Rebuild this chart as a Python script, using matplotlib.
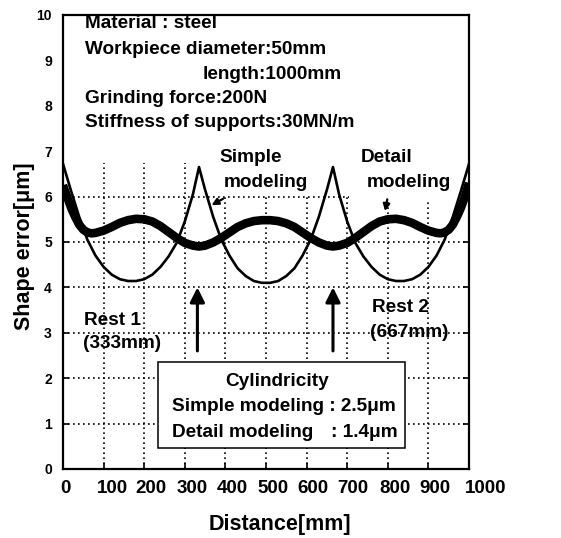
import matplotlib
matplotlib.use("Agg")
import matplotlib.pyplot as plt
import matplotlib.transforms as mtransforms
from matplotlib.patches import Rectangle

plt.rcParams['font.family'] = ['Liberation Sans', 'DejaVu Sans']
plt.rcParams['font.weight'] = 'bold'

# Simple modeling curve
simple_x = [0, 20, 40, 60, 80, 100, 120, 140, 160, 180, 200, 220, 240, 260, 280, 300, 320, 335,
            350, 370, 390, 410, 430, 450, 470, 490, 510, 530, 550, 570, 590, 610, 630, 650, 665,
            680, 700, 720, 740, 760, 780, 800, 820, 840, 860, 880, 900, 920, 940, 960, 980, 1000]
simple_y = [6.72, 6.12, 5.55, 5.05, 4.70, 4.45, 4.28, 4.18, 4.14, 4.14, 4.18, 4.28, 4.45, 4.68, 4.98, 5.45, 6.05, 6.65,
            6.15, 5.55, 5.05, 4.70, 4.42, 4.25, 4.14, 4.10, 4.10, 4.14, 4.25, 4.42, 4.70, 5.05, 5.55, 6.15, 6.65,
            6.05, 5.45, 4.98, 4.68, 4.45, 4.28, 4.18, 4.14, 4.14, 4.18, 4.28, 4.45, 4.70, 5.05, 5.55, 6.12, 6.72]

# Detail modeling curve
detail_x = [0, 10, 20, 30, 40, 50, 60, 70, 80, 100, 120, 140, 160, 180, 200, 220, 240, 260, 280, 300,
            320, 335, 350, 370, 390, 410, 430, 450, 470, 490, 510, 530, 550, 570, 590, 610, 630, 650,
            665, 680, 700, 720, 740, 760, 780, 800, 820, 840, 860, 880, 900, 920, 930, 940, 950, 960,
            970, 980, 990, 1000]
detail_y = [6.25, 6.00, 5.75, 5.55, 5.38, 5.27, 5.21, 5.19, 5.20, 5.25, 5.33, 5.42, 5.48, 5.51, 5.50, 5.45, 5.35, 5.22, 5.09, 4.98,
            4.92, 4.90, 4.92, 4.99, 5.09, 5.21, 5.33, 5.41, 5.46, 5.48, 5.48, 5.46, 5.41, 5.33, 5.21, 5.09, 4.99, 4.92,
            4.90, 4.92, 4.98, 5.09, 5.22, 5.35, 5.45, 5.50, 5.51, 5.48, 5.42, 5.33, 5.25, 5.20, 5.19, 5.21, 5.27, 5.38,
            5.55, 5.75, 6.00, 6.30]

x_ticks = [0, 100, 200, 300, 400, 500, 600, 700, 800, 900, 1000]
y_ticks = [0, 1, 2, 3, 4, 5, 6, 7, 8, 9, 10]

info_lines = ["Material : steel", "Workpiece diameter:50mm", "length:1000mm",
              "Grinding force:200N", "Stiffness of supports:30MN/m"]
rest_positions = [333, 667]

fig = plt.figure(figsize=(5.61, 5.38), dpi=100)
ax = fig.add_axes([0.1123, 0.1283, 0.7237, 0.8439])
ax.set_xlim(0, 1000)
ax.set_ylim(0, 10)
ax.set_xticks(x_ticks)
ax.set_yticks(y_ticks)
ax.tick_params(axis='x', labelsize=13.5, direction='in', length=4, width=1.2, pad=8)
ax.tick_params(axis='y', labelsize=10, direction='in', length=4, width=1.2, pad=8, right=True)
for lab in ax.get_xticklabels() + ax.get_yticklabels():
    lab.set_fontweight('bold')
# the original's x tick labels sit a little to the right of their grid lines
label_shift_px = [2, 9, 7, 7, 7, 7, 6, 6, 7, 7, 17]
for lab, dx in zip(ax.get_xticklabels(), label_shift_px):
    lab.set_transform(lab.get_transform() + mtransforms.ScaledTranslation(dx / 100.0, 0, fig.dpi_scale_trans))
for s in ax.spines.values():
    s.set_linewidth(1.6)
ax.set_axisbelow(True)
ax.grid(True, linestyle=(0, (1, 2)), color='black', linewidth=1.2)

# white areas hiding the grid behind text
ax.add_patch(Rectangle((0, 6.75), 1000, 3.25, facecolor='white', edgecolor='none', zorder=1))
ax.add_patch(Rectangle((340, 6.03), 660, 0.75, facecolor='white', edgecolor='none', zorder=1))
ax.add_patch(Rectangle((705, 5.9), 295, 0.2, facecolor='white', edgecolor='none', zorder=1))

ax.plot(simple_x, simple_y, color='black', linewidth=1.9, zorder=4)
ax.plot(detail_x, detail_y, color='black', linewidth=6.2, zorder=5, solid_capstyle='butt')

fs = 13.7
ax.text(54, 9.82, info_lines[0], fontsize=fs, fontweight='bold', va='center', ha='left', zorder=6)
ax.text(54, 9.23, info_lines[1], fontsize=fs, fontweight='bold', va='center', ha='left', zorder=6)
ax.text(345, 8.68, info_lines[2], fontsize=fs, fontweight='bold', va='center', ha='left', zorder=6)
ax.text(54, 8.17, info_lines[3], fontsize=fs, fontweight='bold', va='center', ha='left', zorder=6)
ax.text(54, 7.64, info_lines[4], fontsize=fs, fontweight='bold', va='center', ha='left', zorder=6)

ax.text(463, 6.87, "Simple", fontsize=fs, fontweight='bold', va='center', ha='center', zorder=6)
ax.text(500, 6.32, "modeling", fontsize=fs, fontweight='bold', va='center', ha='center', zorder=6)
ax.text(798, 6.87, "Detail", fontsize=fs, fontweight='bold', va='center', ha='center', zorder=6)
ax.text(852, 6.32, "modeling", fontsize=fs, fontweight='bold', va='center', ha='center', zorder=6)

ax.annotate("", xy=(360, 5.78), xytext=(400, 5.98),
            arrowprops=dict(arrowstyle='-|>', color='black', lw=1.6, mutation_scale=10), zorder=6)
ax.annotate("", xy=(792, 5.62), xytext=(800, 6.0),
            arrowprops=dict(arrowstyle='-|>', color='black', lw=1.6, mutation_scale=10), zorder=6)

for rp in rest_positions:
    ax.annotate("", xy=(rp - 2, 4.0), xytext=(rp - 2, 2.6),
                arrowprops=dict(arrowstyle='-|>', color='black', lw=2.2, mutation_scale=22,
                                shrinkA=0, shrinkB=0), zorder=6)

ax.text(52, 3.28, "Rest 1", fontsize=fs, fontweight='bold', va='center', ha='left', zorder=6)
ax.text(50, 2.77, "(333mm)", fontsize=fs, fontweight='bold', va='center', ha='left', zorder=6)
ax.text(760, 3.55, "Rest 2", fontsize=fs, fontweight='bold', va='center', ha='left', zorder=6)
ax.text(756, 3.0, "(667mm)", fontsize=fs, fontweight='bold', va='center', ha='left', zorder=6)

ax.add_patch(Rectangle((234, 0.46), 608, 1.9, facecolor='white', edgecolor='black', linewidth=1.1, zorder=7))
ax.text(527, 1.92, "Cylindricity", fontsize=fs, fontweight='bold', va='center', ha='center', zorder=8)
ax.text(268, 1.37, "Simple modeling : 2.5μm", fontsize=fs, fontweight='bold', va='center', ha='left', zorder=8)
ax.text(268, 0.81, "Detail modeling", fontsize=fs, fontweight='bold', va='center', ha='left', zorder=8)
ax.text(823, 0.81, ": 1.4μm", fontsize=fs, fontweight='bold', va='center', ha='right', zorder=8)

ax.set_xlabel("Distance[mm]", fontsize=15.5, fontweight='bold', va='center')
ax.xaxis.set_label_coords(0.534, -0.123)
ax.set_ylabel("Shape error[μm]", fontsize=15.5, fontweight='bold', va='center')
ax.yaxis.set_label_coords(-0.094, 0.49)

fig.savefig("out.png", dpi=100)
